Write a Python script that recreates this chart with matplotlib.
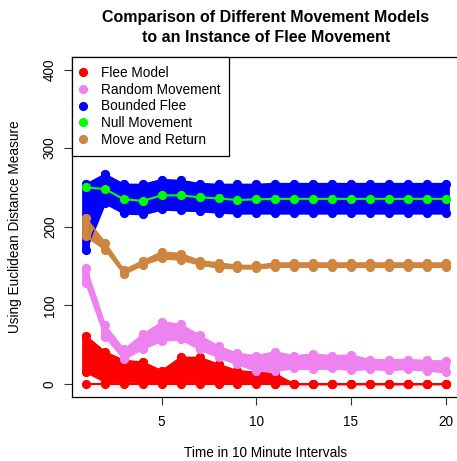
import numpy
import matplotlib
matplotlib.use('Agg')
import matplotlib.pyplot as plt
from matplotlib.lines import Line2D

plt.rcParams['font.family'] = ['Liberation Sans', 'DejaVu Sans']

# Time steps (10 minute intervals)
time = [1, 2, 3, 4, 5, 6, 7, 8, 9, 10, 11, 12, 13, 14, 15, 16, 17, 18, 19, 20]

# Flee model: the observed instance plus the envelope of the simulated runs
flee_instance = [0, 0, 0, 0, 0, 0, 0, 0, 0, 0, 0, 0, 0, 0, 0, 0, 0, 0, 0, 0]
flee_lo = [15, 3, 3, 3, 2, 3, 3, 2, 2, 1, 0, 0, 0, 0, 0, 0, 0, 0, 0, 0]
flee_hi = [61, 41, 30, 28, 17, 34, 34, 25, 17, 15, 13, 0, 0, 0, 0, 0, 0, 0, 0, 0]

# Random movement envelope
random_lo = [128, 60, 32, 45, 55, 57, 44, 34, 25, 17, 17, 20, 19, 20, 18, 19, 18, 19, 17, 15]
random_hi = [148, 75, 44, 63, 79, 76, 62, 48, 39, 36, 41, 36, 38, 36, 37, 31, 31, 31, 30, 29]

# Bounded flee envelope
bounded_lo = [171, 230, 217, 216, 222, 221, 220, 218, 217, 217, 217, 217, 217, 217, 217, 217, 217, 217, 217, 217]
bounded_hi = [254, 267, 254, 254, 260, 259, 255, 254, 254, 254, 255, 255, 255, 255, 255, 255, 255, 255, 255, 255]

# Null movement (single series)
null_move = [250, 248, 235, 233, 240, 240, 237.5, 236, 234, 235, 235.5, 235.5, 235.5, 235.5, 235.5, 235.5, 235.5, 235.5, 235.5, 235.5]

# Move and return envelope
return_lo = [188, 171, 140, 152, 160, 158, 152, 148, 147, 147, 149, 149, 149, 149, 149, 149, 149, 149, 149, 149]
return_hi = [211, 180, 145, 157, 168, 166, 157, 154, 151, 151, 154, 154, 154, 154, 154, 154, 154, 154, 154, 154]

labels = ['Flee Model', 'Random Movement', 'Bounded Flee', 'Null Movement', 'Move and Return']
colors = ['#FF0000', '#EE82EE', '#0000FF', '#00FF00', '#CD853F']

MS = 5.6
FS = 9.8


def band(ax, x, lo, hi, color):
    """Draw a bundle of runs as a filled envelope with point columns."""
    ax.fill_between(x, lo, hi, color=color, linewidth=1.0, edgecolor=color)
    cols = ax.vlines(x, lo, hi, color=color, linewidth=MS)
    cols.set_capstyle('round')
    ax.plot(x, lo, color=color, marker='o', markersize=MS, linewidth=1)
    ax.plot(x, hi, color=color, marker='o', markersize=MS, linewidth=1)


fig = plt.figure(figsize=(4.57, 4.61), dpi=100)
ax = fig.add_axes([0.1567, 0.1397, 0.85, 0.7367])

band(ax, time, flee_lo, flee_hi, colors[0])
band(ax, time, random_lo, random_hi, colors[1])
band(ax, time, bounded_lo, bounded_hi, colors[2])
band(ax, time, return_lo, return_hi, colors[4])
ax.plot(time, null_move, color=colors[3], marker='o', markersize=MS, linewidth=1.5)
ax.plot(time, flee_instance, color=colors[0], marker='o', markersize=MS, linewidth=1.5)

ax.set_xlim(0.24, 20.76)
ax.set_ylim(-16, 416)
ax.set_xticks([5, 10, 15, 20])
ax.set_yticks([0, 100, 200, 300, 400])
ax.tick_params(direction='out', length=5.6, width=0.8, labelsize=FS, color='#333333')
ax.tick_params(axis='x', pad=8)
ax.tick_params(axis='y', pad=5)
for lab in ax.get_yticklabels():
    lab.set_rotation(90)
    lab.set_va('center')
for s in ax.spines.values():
    s.set_linewidth(0.9)

ax.set_xlabel('Time in 10 Minute Intervals', fontsize=FS, labelpad=12)
ax.set_ylabel('Using Euclidean Distance Measure', fontsize=FS, labelpad=15)
ax.set_title('Comparison of Different Movement Models\nto an Instance of Flee Movement',
             fontsize=11.5, fontweight='bold', pad=11, linespacing=1.4)

handles = [Line2D([], [], linestyle='none', marker='o', markersize=MS, color=c) for c in colors]
leg = ax.legend(handles, labels, loc='upper left', bbox_to_anchor=(0, 1), borderaxespad=0,
                fontsize=FS, fancybox=False, edgecolor='black', framealpha=1,
                handlelength=0.3, handletextpad=1.2, labelspacing=0.2, borderpad=0.65)
leg.get_frame().set_linewidth(0.9)

fig.savefig('out.png', dpi=100)
